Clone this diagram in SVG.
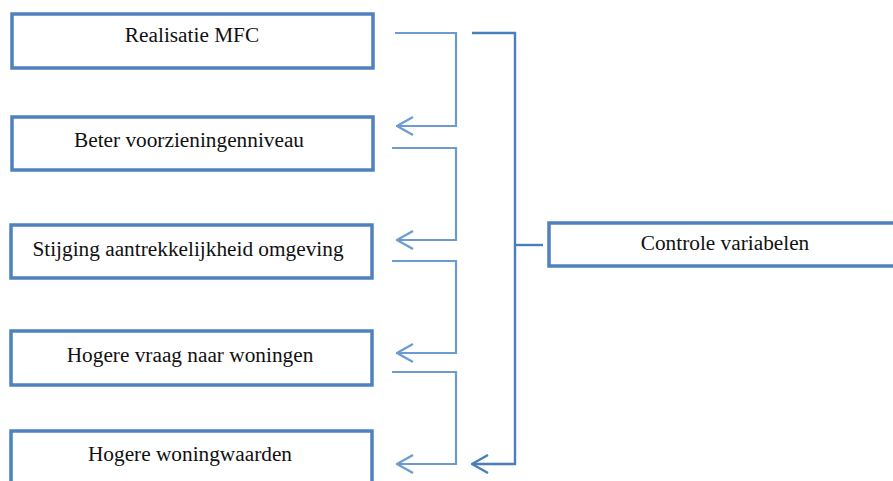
<svg xmlns="http://www.w3.org/2000/svg" width="893" height="481" viewBox="0 0 893 481">
<style>
.box{fill:#fff;stroke:#4f81bd;stroke-width:3.5}
.t{font-family:"Liberation Serif","Times New Roman","DejaVu Serif",serif;font-size:21.3px;fill:#111;text-anchor:middle}
.c{fill:none;stroke:#6b9bd2;stroke-width:2.2}
.cb{fill:none;stroke:#4a7ebb;stroke-width:2.4}
</style>
<defs>
<marker id="ah" viewBox="0 0 20 20" refX="19" refY="10" markerWidth="20" markerHeight="20" markerUnits="userSpaceOnUse" orient="auto">
<polyline points="3,1 19,10 3,19" fill="none" stroke="#6b9bd2" stroke-width="2.2"/>
</marker>
<marker id="ahb" viewBox="0 0 20 20" refX="19" refY="10" markerWidth="20" markerHeight="20" markerUnits="userSpaceOnUse" orient="auto">
<polyline points="3,1 19,10 3,19" fill="none" stroke="#4a7ebb" stroke-width="2.4"/>
</marker>
</defs>
<rect width="893" height="481" fill="#fff"/>
<g id="connectors">
<polyline class="c" points="395,33 456,33 456,126 397,126" marker-end="url(#ah)"/>
<polyline class="c" points="392,148 456,148 456,240 397,240" marker-end="url(#ah)"/>
<polyline class="c" points="392,261 456,261 456,353 397,353" marker-end="url(#ah)"/>
<polyline class="c" points="392,372 456,372 456,464 397,464" marker-end="url(#ah)"/>
<polyline class="cb" points="472,33 515,33 515,464 472,464" marker-end="url(#ahb)"/>
<line class="cb" x1="515" y1="245" x2="543" y2="245"/>
</g>
<g id="n1"><rect class="box" x="12" y="14" width="361" height="54"/><text class="t" x="192" y="42">Realisatie MFC</text></g>
<g id="n2"><rect class="box" x="12" y="117" width="361" height="53"/><text class="t" x="189" y="147">Beter voorzieningenniveau</text></g>
<g id="n3"><rect class="box" x="11" y="225" width="361" height="53"/><text class="t" x="188" y="256">Stijging aantrekkelijkheid omgeving</text></g>
<g id="n4"><rect class="box" x="11" y="331" width="361" height="54"/><text class="t" x="190" y="362">Hogere vraag naar woningen</text></g>
<g id="n5"><rect class="box" x="11" y="431" width="361" height="60"/><text class="t" x="190" y="461">Hogere woningwaarden</text></g>
<g id="n6"><rect class="box" x="549" y="223" width="360" height="43"/><text class="t" x="725" y="250">Controle variabelen</text></g>
</svg>
